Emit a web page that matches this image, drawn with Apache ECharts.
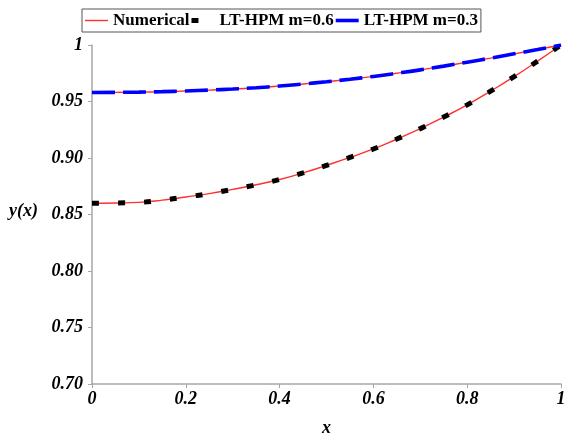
<!DOCTYPE html>
<html><head><meta charset="utf-8">
<script src="https://cdn.jsdelivr.net/npm/echarts@6/dist/echarts.min.js"></script>
<style>html,body{margin:0;padding:0;background:#fff}#c{width:565px;height:436px}</style>
</head><body><div id="c"></div>
<script>
const xValues = [0, 0.05, 0.1, 0.15, 0.2, 0.25, 0.3, 0.35, 0.4, 0.45, 0.5, 0.55, 0.6, 0.65, 0.7, 0.75, 0.8, 0.85, 0.9, 0.95, 1.0];
const numericalLower = [0.860, 0.8602, 0.8607, 0.8627, 0.8655, 0.8685, 0.8722, 0.8763, 0.881, 0.8868, 0.8935, 0.9005, 0.908, 0.9168, 0.926, 0.9362, 0.947, 0.9592, 0.972, 0.9857, 1.0];
const numericalUpper = [0.958, 0.9581, 0.9583, 0.9587, 0.9593, 0.9601, 0.961, 0.9622, 0.9637, 0.9655, 0.9675, 0.9697, 0.9722, 0.975, 0.978, 0.9813, 0.9848, 0.9884, 0.9922, 0.996, 1.0];
const ltHpmM06 = [0.860, 0.8602, 0.8607, 0.8627, 0.8655, 0.8685, 0.8722, 0.8763, 0.881, 0.8868, 0.8935, 0.9005, 0.908, 0.9168, 0.926, 0.9362, 0.947, 0.9592, 0.972, 0.9857, 1.0];
const ltHpmM03 = [0.958, 0.9581, 0.9583, 0.9587, 0.9593, 0.9601, 0.961, 0.9622, 0.9637, 0.9655, 0.9675, 0.9697, 0.9722, 0.975, 0.978, 0.9813, 0.9848, 0.9884, 0.9922, 0.996, 1.0];
const seriesNames = ['Numerical', 'LT-HPM m=0.6', 'LT-HPM m=0.3'];

const pair = (ys) => xValues.map((x, i) => [x, ys[i]]);
const serif = '"Liberation Serif", "Times New Roman", serif';
const chart = echarts.init(document.getElementById('c'), null, {renderer: 'canvas'});
chart.setOption({
  animation: false,
  backgroundColor: '#fff',
  grid: {left: 92, right: 4, top: 45, bottom: 52, outerBoundsMode: 'none', containLabel: false},
  legend: {
    left: 82, top: 9,
    padding: [3, 3, 3, 3],
    borderColor: '#555', borderWidth: 1,
    itemWidth: 23, itemHeight: 10, itemGap: 2,
    itemStyle: {borderWidth: 0},
    textStyle: {fontFamily: serif, fontWeight: 'bold', fontSize: 17, color: '#000'},
    data: [
      {name: seriesNames[0], icon: 'path://M0,0M23,10M0,4.3h23v1.4h-23z'},
      {name: seriesNames[1], icon: 'path://M0,0M23,10M0,2.5h7v5h-7z'},
      {name: seriesNames[2], icon: 'path://M0,0M23,10M0,3.2h23v3.6h-23z'}
    ]
  },
  xAxis: {
    type: 'value', min: 0, max: 1, interval: 0.2,
    name: 'x', nameLocation: 'middle', nameGap: 35,
    nameTextStyle: {fontFamily: serif, fontWeight: 'bold', fontStyle: 'italic', fontSize: 18, color: '#000'},
    axisLine: {lineStyle: {color: '#a6a6a6', width: 1.5}},
    axisTick: {show: true, length: 4, lineStyle: {color: '#a6a6a6'}},
    splitLine: {show: false},
    axisLabel: {margin: 6, fontFamily: serif, fontWeight: 'bold', fontStyle: 'italic', fontSize: 18, color: '#000',
      formatter: v => (v === 0 || v === 1) ? String(v) : v.toFixed(1)}
  },
  yAxis: {
    type: 'value', min: 0.7, max: 1, interval: 0.05,
    axisLine: {show: true, lineStyle: {color: '#a6a6a6', width: 1.5}},
    axisTick: {show: true, length: 4, lineStyle: {color: '#a6a6a6'}},
    splitLine: {show: false},
    axisLabel: {margin: 9, fontFamily: serif, fontWeight: 'bold', fontStyle: 'italic', fontSize: 18, color: '#000',
      formatter: v => Math.abs(v - 1) < 1e-9 ? '1' : v.toFixed(2)}
  },
  graphic: [{
    type: 'text', left: 9, top: 202,
    style: {text: 'y(x)', fontFamily: serif, fontWeight: 'bold', fontStyle: 'italic', fontSize: 18, fill: '#000'}
  }],
  series: [
    {name: seriesNames[0], type: 'line', data: pair(numericalLower), smooth: true, symbol: 'none', z: 2,
      color: '#ff3030', lineStyle: {color: '#ff3030', width: 1.4}, itemStyle: {color: '#ff3030'}},
    {name: seriesNames[0], type: 'line', data: pair(numericalUpper), smooth: true, symbol: 'none', z: 2,
      color: '#ff3030', lineStyle: {color: '#ff3030', width: 1.4}, itemStyle: {color: '#ff3030'}},
    {name: seriesNames[1], type: 'line', data: pair(ltHpmM06), smooth: true, symbol: 'none', z: 3,
      color: '#000', lineStyle: {color: '#000', width: 5, type: [7, 19], cap: 'butt'}, itemStyle: {color: '#000'}},
    {name: seriesNames[2], type: 'line', data: pair(ltHpmM03), smooth: true, symbol: 'none', z: 3,
      color: '#0000ff', lineStyle: {color: '#0000ff', width: 3.6, type: [23, 8], cap: 'butt'}, itemStyle: {color: '#0000ff'}}
  ]
});
</script></body></html>
